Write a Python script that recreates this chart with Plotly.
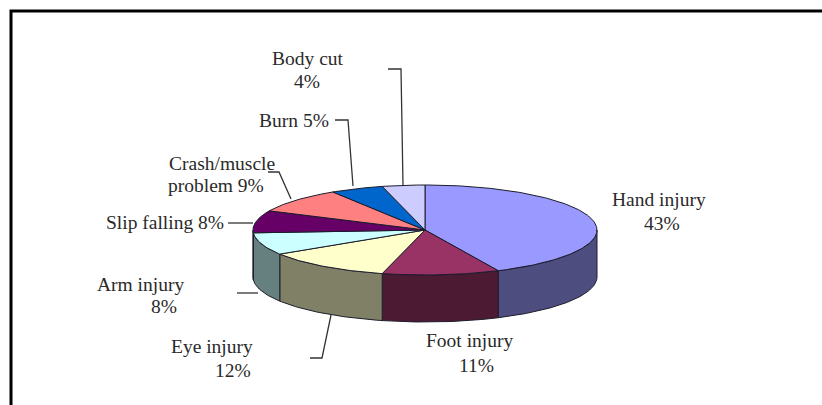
import math
import plotly.graph_objects as go

# --- data ---
categories = ["Hand injury", "Foot injury", "Eye injury", "Arm injury",
              "Slip falling", "Crash/muscle problem", "Burn", "Body cut"]
shares = [43, 11, 12, 8, 8, 9, 5, 4]
top_colors = ["#9999FF", "#993366", "#FFFFCC", "#CCFFFF",
              "#660066", "#FF8080", "#0066CC", "#CCCCFF"]
side_colors = ["#4D4D80", "#4D1A33", "#808066", "#668080",
               "#330033", "#804040", "#003366", "#666680"]

# --- pie geometry (pixel-like axes) ---
CX, CY, RX, RY, DEPTH = 425, 230, 172, 45, 47
INK = "#1c1c2c"

# --- label layout: text, x centre, y centre ---
label_text = ["Body cut", "4%", "Burn 5%", "Crash/muscle", "problem 9%", "Slip falling 8%",
              "Arm injury", "8%", "Eye injury", "12%", "Foot injury", "11%", "Hand injury", "43%"]
label_x = [308, 307, 294, 222, 216, 165, 140, 164, 212, 233, 469, 476, 659, 662]
label_y = [58, 81, 120, 163, 185, 222, 284, 306, 346, 370, 340, 365, 199, 223]

# --- leader lines ---
leaders = [
    ([388, 401, 403], [69, 69, 185]),
    ([335, 348, 353], [120, 120, 186]),
    ([268, 279, 291], [172, 172, 199]),
    ([228, 253], [223, 223]),
    ([237, 258], [293, 293]),
    ([310, 322, 331], [358, 358, 315]),
]


def pt(deg, drop=0.0):
    a = math.radians(deg)
    return CX + RX * math.sin(a), CY - RY * math.cos(a) + drop


def arc(a0, a1, drop=0.0):
    n = max(2, int(abs(a1 - a0)) + 2)
    return [pt(a0 + (a1 - a0) * i / (n - 1), drop) for i in range(n)]


def poly(points, fill):
    xs = [p[0] for p in points] + [points[0][0]]
    ys = [p[1] for p in points] + [points[0][1]]
    return go.Scatter(x=xs, y=ys, mode="lines", fill="toself", fillcolor=fill,
                      line=dict(color=INK, width=1), hoverinfo="skip", showlegend=False)


fig = go.Figure()
total = sum(shares)
edges = [0.0]
for v in shares:
    edges.append(edges[-1] + 360.0 * v / total)

# side walls (only the front half of the cylinder is visible)
for i in range(len(shares)):
    lo, hi = max(edges[i], 90.0), min(edges[i + 1], 270.0)
    if hi > lo:
        fig.add_trace(poly(arc(lo, hi) + arc(hi, lo, DEPTH), side_colors[i]))

# top faces
for i in range(len(shares)):
    fig.add_trace(poly([(CX, CY)] + arc(edges[i], edges[i + 1]), top_colors[i]))

# leaders
for lx, ly in leaders:
    fig.add_trace(go.Scatter(x=lx, y=ly, mode="lines", line=dict(color="#333333", width=1.3),
                             hoverinfo="skip", showlegend=False))

# top and left frame
fig.add_trace(go.Scatter(x=[11, 11, 822], y=[405, 11, 11], mode="lines",
                         line=dict(color="#000000", width=3), hoverinfo="skip", showlegend=False))

for t, x, y in zip(label_text, label_x, label_y):
    fig.add_annotation(x=x, y=y, text=t, showarrow=False, xanchor="center", yanchor="middle",
                       font=dict(family="Liberation Serif", size=19.5, color="#2a2a2a"))

fig.update_layout(width=822, height=405, margin=dict(l=0, r=0, t=0, b=0),
                  paper_bgcolor="white", plot_bgcolor="white", showlegend=False,
                  xaxis=dict(range=[0, 822], visible=False, fixedrange=True),
                  yaxis=dict(range=[405, 0], visible=False, fixedrange=True))
fig.write_html("out.html", config={"displayModeBar": False},
               post_script="document.body.style.margin='0';document.body.style.overflow='hidden';")
